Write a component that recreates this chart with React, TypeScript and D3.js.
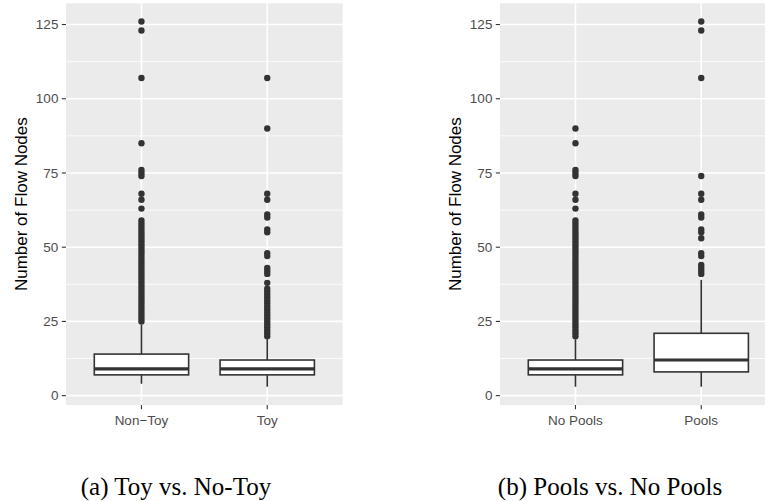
import React from "react";
import * as d3 from "d3";

// panel (a): toy vs non-toy
const toyCategories = ["Non\u2212Toy", "Toy"];
const toyStats = [
  { lower: 4, q1: 7, median: 9, q3: 14, upper: 24 },
  { lower: 3, q1: 7, median: 9, q3: 12, upper: 19 },
];
const nonToyOutliers = [
  25, 26, 27, 28, 29, 30, 31, 32, 33, 34, 35, 36, 37, 38, 39, 40, 41, 42, 43, 44, 45, 46, 47,
  48, 49, 50, 51, 52, 53, 54, 55, 56, 57, 58, 59, 63, 66, 68, 74, 75, 76, 85, 107, 123, 126,
];
const toyOutliers = [
  20, 21, 22, 23, 24, 25, 26, 27, 28, 29, 30, 31, 32, 33, 34, 35, 36, 38, 41, 42, 43, 47, 48,
  55, 56, 60, 61, 66, 68, 90, 107,
];

// panel (b): pools vs no pools
const poolCategories = ["No Pools", "Pools"];
const poolStats = [
  { lower: 3, q1: 7, median: 9, q3: 12, upper: 19 },
  { lower: 3, q1: 8, median: 12, q3: 21, upper: 39 },
];
const noPoolsOutliers = [
  20, 21, 22, 23, 24, 25, 26, 27, 28, 29, 30, 31, 32, 33, 34, 35, 36, 37, 38, 39, 40, 41, 42,
  43, 44, 45, 46, 47, 48, 49, 50, 51, 52, 53, 54, 55, 56, 57, 58, 59, 63, 66, 68, 74, 75, 76, 85, 90,
];
const poolsOutliers = [41, 42, 43, 44, 47, 48, 53, 55, 56, 60, 61, 66, 68, 74, 107, 123, 126];

const yTicks = [0, 25, 50, 75, 100, 125];
const yMinor = [12.5, 37.5, 62.5, 87.5, 112.5];
const captions = ["(a) Toy vs. No-Toy", "(b) Pools vs. No Pools"];

const W = 765;
const H = 501;
const sans = "'Liberation Sans', Arial, Helvetica, sans-serif";
const serif = "'Liberation Serif', 'Times New Roman', serif";

type Stat = { lower: number; q1: number; median: number; q3: number; upper: number };

function BoxPanel(props: {
  left: number;
  categories: string[];
  stats: Stat[];
  outliers: number[][];
}) {
  const { left, categories, stats, outliers } = props;
  const panelW = 276.7;
  const top = 3.3;
  const bottom = 405;
  const x = d3.scalePoint<string>().domain(categories).range([left, left + panelW]).padding(0.6);
  const y = d3.scaleLinear().domain([-3.15, 132.15]).range([bottom, top]);
  const boxW = x.step() * 0.75;
  const ink = "#333333";

  return (
    <g>
      <rect x={left} y={top} width={panelW} height={bottom - top} fill="#EBEBEB" />
      {yMinor.map((v) => (
        <line key={"m" + v} x1={left} x2={left + panelW} y1={y(v)} y2={y(v)} stroke="#fff" strokeWidth={0.8} />
      ))}
      {yTicks.map((v) => (
        <line key={"g" + v} x1={left} x2={left + panelW} y1={y(v)} y2={y(v)} stroke="#fff" strokeWidth={1.6} />
      ))}
      {categories.map((c) => (
        <line key={"v" + c} x1={x(c)} x2={x(c)} y1={top} y2={bottom} stroke="#fff" strokeWidth={1.6} />
      ))}
      {categories.map((c, i) => {
        const s = stats[i];
        const cx = x(c) as number;
        return (
          <g key={"b" + c}>
            <line x1={cx} x2={cx} y1={y(s.q3)} y2={y(s.upper)} stroke={ink} strokeWidth={1.6} />
            <line x1={cx} x2={cx} y1={y(s.q1)} y2={y(s.lower)} stroke={ink} strokeWidth={1.6} />
            <rect
              x={cx - boxW / 2}
              y={y(s.q3)}
              width={boxW}
              height={y(s.q1) - y(s.q3)}
              fill="#fff"
              stroke={ink}
              strokeWidth={1.6}
            />
            <line x1={cx - boxW / 2} x2={cx + boxW / 2} y1={y(s.median)} y2={y(s.median)} stroke={ink} strokeWidth={3.2} />
            {outliers[i].map((v, j) => (
              <circle key={j} cx={cx} cy={y(v)} r={3.2} fill={ink} />
            ))}
          </g>
        );
      })}
      {yTicks.map((v) => (
        <g key={"t" + v}>
          <line x1={left - 4.2} x2={left} y1={y(v)} y2={y(v)} stroke={ink} strokeWidth={1.1} />
          <text
            x={left - 7.6}
            y={y(v)}
            dy="0.35em"
            textAnchor="end"
            fontFamily={sans}
            fontSize={13.5}
            fill="#4D4D4D"
          >
            {v}
          </text>
        </g>
      ))}
      {categories.map((c) => (
        <g key={"xt" + c}>
          <line x1={x(c)} x2={x(c)} y1={bottom} y2={bottom + 4.2} stroke={ink} strokeWidth={1.1} />
          <text x={x(c)} y={bottom + 20} textAnchor="middle" fontFamily={sans} fontSize={13.5} fill="#4D4D4D">
            {c}
          </text>
        </g>
      ))}
      <text
        transform={`translate(${left - 39},${(top + bottom) / 2}) rotate(-90)`}
        textAnchor="middle"
        fontFamily={sans}
        fontSize={17}
        fill="#000"
      >
        Number of Flow Nodes
      </text>
    </g>
  );
}

export default function App() {
  return (
    <svg width={W} height={H} style={{ position: "absolute", left: 0, top: 0, background: "#fff" }}>
      <rect width={W} height={H} fill="#fff" />
      <BoxPanel left={66} categories={toyCategories} stats={toyStats} outliers={[nonToyOutliers, toyOutliers]} />
      <BoxPanel left={500} categories={poolCategories} stats={poolStats} outliers={[noPoolsOutliers, poolsOutliers]} />
      <text x={176} y={495} textAnchor="middle" fontFamily={serif} fontSize={25} fill="#000">
        {captions[0]}
      </text>
      <text x={610} y={495} textAnchor="middle" fontFamily={serif} fontSize={25} fill="#000">
        {captions[1]}
      </text>
    </svg>
  );
}
